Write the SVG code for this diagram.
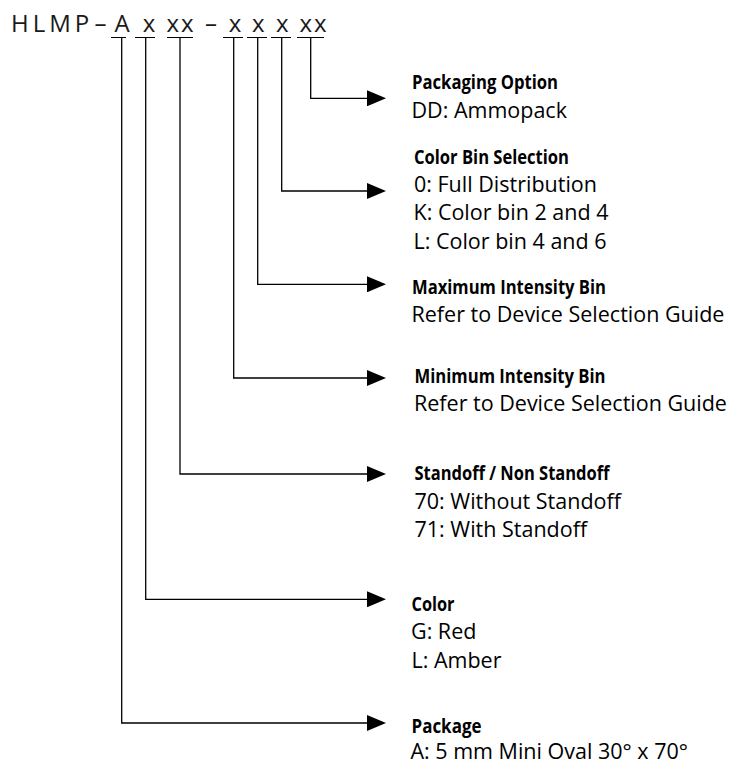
<svg xmlns="http://www.w3.org/2000/svg" width="733" height="765" viewBox="0 0 733 765">
<style>
.code{font-family:"Open Sans","Liberation Sans",sans-serif;font-size:24px;fill:#1a1a1a}
.h{font-family:"Open Sans","Liberation Sans",sans-serif;font-size:19.5px;font-weight:700;fill:#000}
.b{font-family:"Open Sans","Liberation Sans",sans-serif;font-size:21.5px;fill:#000}
.ul{stroke:#000;stroke-width:1;fill:none}
.c{stroke:#000;stroke-width:1.3;fill:none;marker-end:url(#ah)}
</style>
<defs>
<marker id="ah" viewBox="0 0 19 16" refX="0" refY="8" markerWidth="19" markerHeight="16" markerUnits="userSpaceOnUse" orient="auto">
<path d="M0,0 L19,8 L0,16 z" fill="#000"/>
</marker>
</defs>
<rect width="733" height="765" fill="#fff"/>
<g id="part-number">
<text class="code" x="11" y="32" letter-spacing="4">HLMP</text>
<text class="code" x="100.5" y="32" text-anchor="middle">–</text>
<text class="code" x="122" y="32" text-anchor="middle">A</text>
<text class="code" x="149" y="32" text-anchor="middle">x</text>
<text class="code" x="166.5" y="32" letter-spacing="2">xx</text>
<text class="code" x="211" y="32" text-anchor="middle">–</text>
<text class="code" x="235" y="32" text-anchor="middle">x</text>
<text class="code" x="258.3" y="32" text-anchor="middle">x</text>
<text class="code" x="282.2" y="32" text-anchor="middle">x</text>
<text class="code" x="299.5" y="32" letter-spacing="2">xx</text>
<path class="ul" d="M111,37.5H126 M135,37.5H155 M167,37.5H193 M223,37.5H243 M247,37.5H267 M271,37.5H291 M297,37.5H324"/>
</g>
<g id="connectors">
<path class="c" d="M310.7,37V98.3H367"/>
<path class="c" d="M281.7,37V191H367"/>
<path class="c" d="M257.7,37V284.3H367"/>
<path class="c" d="M233.7,37V378H367"/>
<path class="c" d="M180,37V474H367"/>
<path class="c" d="M145.7,37V599.3H367"/>
<path class="c" d="M121.7,37V723H367"/>
</g>
<g id="packaging-option">
<text class="h" x="412" y="88.5" textLength="146" lengthAdjust="spacingAndGlyphs">Packaging Option</text>
<text class="b" x="411.5" y="117.5">DD: Ammopack</text>
</g>
<g id="color-bin-selection">
<text class="h" x="414" y="163.5" textLength="155" lengthAdjust="spacingAndGlyphs">Color Bin Selection</text>
<text class="b" x="414" y="191.5">0: Full Distribution</text>
<text class="b" x="413.5" y="219.5">K: Color bin 2 and 4</text>
<text class="b" x="413.5" y="248.5">L: Color bin 4 and 6</text>
</g>
<g id="maximum-intensity-bin">
<text class="h" x="412" y="293.5" textLength="194" lengthAdjust="spacingAndGlyphs">Maximum Intensity Bin</text>
<text class="b" x="411.5" y="321.5">Refer to Device Selection Guide</text>
</g>
<g id="minimum-intensity-bin">
<text class="h" x="414.5" y="382.5" textLength="191" lengthAdjust="spacingAndGlyphs">Minimum Intensity Bin</text>
<text class="b" x="414" y="410.5">Refer to Device Selection Guide</text>
</g>
<g id="standoff">
<text class="h" x="414.5" y="480" textLength="195" lengthAdjust="spacingAndGlyphs">Standoff / Non Standoff</text>
<text class="b" x="414.5" y="508.5">70: Without Standoff</text>
<text class="b" x="414.5" y="536.5">71: With Standoff</text>
</g>
<g id="color">
<text class="h" x="411.5" y="610.5" textLength="43" lengthAdjust="spacingAndGlyphs">Color</text>
<text class="b" x="411" y="639">G: Red</text>
<text class="b" x="411.5" y="667.5">L: Amber</text>
</g>
<g id="package">
<text class="h" x="411.5" y="732.5" textLength="70" lengthAdjust="spacingAndGlyphs">Package</text>
<text class="b" x="410.5" y="759">A: 5 mm Mini Oval 30° x 70°</text>
</g>
</svg>
